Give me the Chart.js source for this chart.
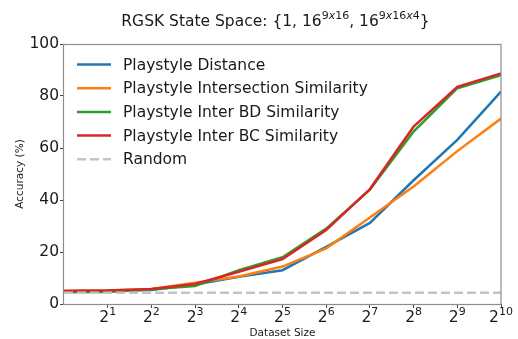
<!DOCTYPE html>
<html>
<head>
<meta charset="utf-8">
<script src="https://cdn.jsdelivr.net/npm/chart.js@4.4.1/dist/chart.umd.min.js"></script>
<style>
  html, body { margin: 0; padding: 0; background: #ffffff; }
  #wrap { width: 518px; height: 339px; }
</style>
</head>
<body>
<div id="wrap"><canvas id="chart" width="518" height="339"></canvas></div>
<script>
// Dataset sizes (x) and accuracy (%) for each playstyle measure
const datasetSizes = [1, 2, 4, 8, 16, 32, 64, 128, 256, 512, 1024];
const playstyleDistance     = [5.0, 5.1, 5.4, 7.5, 10.5, 13.0, 22.0, 31.2, 47.6, 63.1, 81.7];
const playstyleIntersection = [5.0, 5.2, 5.8, 8.2, 10.6, 14.4, 21.4, 33.3, 45.2, 58.8, 71.3];
const playstyleInterBD      = [4.5, 4.6, 5.7, 6.9, 13.0, 18.0, 29.0, 44.0, 66.3, 83.0, 88.0];
const playstyleInterBC      = [5.0, 5.2, 5.8, 7.7, 12.4, 17.3, 28.5, 44.2, 68.2, 83.5, 88.7];
const randomBaseline        = [4.3, 4.3, 4.3, 4.3, 4.3, 4.3, 4.3, 4.3, 4.3, 4.3, 4.3];

const seriesNames = [
  'Playstyle Distance',
  'Playstyle Intersection Similarity',
  'Playstyle Inter BD Similarity',
  'Playstyle Inter BC Similarity',
  'Random'
];
const seriesColors = ['#1f77b4', '#ff7f0e', '#2ca02c', '#d62728', '#c4c4c4'];

// x ticks are powers of two: base 2 with these exponents
const xTickValues = [2, 4, 8, 16, 32, 64, 128, 256, 512, 1024];
const xTickBase = '2';
const xTickExponents = ['1', '2', '3', '4', '5', '6', '7', '8', '9', '10'];
const yTickValues = [0, 20, 40, 60, 80, 100];

const FONT = 'DejaVu Sans';
const TEXT = '#1a1a1a';

function pts(values) {
  return datasetSizes.map((x, i) => ({ x: x, y: values[i] }));
}

const seriesValues = [playstyleDistance, playstyleIntersection, playstyleInterBD, playstyleInterBC, randomBaseline];
// later series sit on top; the dashed baseline is drawn last
const drawOrder = [4, 3, 2, 1, 0];

const datasets = seriesValues.map((vals, i) => ({
  label: seriesNames[i],
  data: pts(vals),
  borderColor: seriesColors[i],
  backgroundColor: seriesColors[i],
  borderWidth: 2.5,
  borderDash: i === 4 ? [9, 4] : [],
  pointRadius: 0,
  tension: 0,
  fill: false,
  order: drawOrder[i]
}));

// Title with superscripted exponents
const titlePlugin = {
  id: 'mathTitle',
  afterDraw(chart) {
    const ctx = chart.ctx;
    const base = 15.5, sup = 11;
    const parts = [
      { t: 'RGSK State Space: {1, 16', s: false },
      { t: '9', s: true }, { t: 'x', s: true, it: true }, { t: '16', s: true },
      { t: ', 16', s: false },
      { t: '9', s: true }, { t: 'x', s: true, it: true }, { t: '16', s: true },
      { t: 'x', s: true, it: true }, { t: '4', s: true },
      { t: '}', s: false }
    ];
    const fontFor = p => (p.it ? 'italic ' : '') + (p.s ? sup : base) + 'px "' + FONT + '"';
    ctx.save();
    let total = 0;
    parts.forEach(p => { ctx.font = fontFor(p); p.w = ctx.measureText(p.t).width; total += p.w; });
    const ca = chart.chartArea;
    const cx = (ca.left + ca.right) / 2 - 7;
    let x = cx - total / 2;
    const baseY = 26;
    ctx.fillStyle = TEXT;
    ctx.textBaseline = 'alphabetic';
    ctx.textAlign = 'left';
    parts.forEach(p => {
      ctx.font = fontFor(p);
      ctx.fillText(p.t, x, p.s ? baseY - 6.8 : baseY);
      x += p.w;
    });
    ctx.restore();
  }
};

// Power-of-two tick labels with raised exponents
const powerTicksPlugin = {
  id: 'powerTicks',
  afterDraw(chart) {
    const ctx = chart.ctx;
    const scale = chart.scales.x;
    const baseFont = '15.5px "' + FONT + '"';
    const supFont = '11px "' + FONT + '"';
    const baseY = scale.top + 18.3;
    ctx.save();
    ctx.fillStyle = TEXT;
    ctx.textBaseline = 'alphabetic';
    ctx.textAlign = 'left';
    scale.ticks.forEach((tick, i) => {
      const px = scale.getPixelForValue(tick.value);
      ctx.font = baseFont;
      const wb = ctx.measureText(xTickBase).width;
      ctx.font = supFont;
      const we = ctx.measureText(xTickExponents[i]).width;
      const x0 = px - (wb + we) / 2;
      ctx.font = baseFont;
      ctx.fillText(xTickBase, x0, baseY);
      ctx.font = supFont;
      ctx.fillText(xTickExponents[i], x0 + wb, baseY - 7.3);
    });
    ctx.restore();
  }
};

// Axes frame on all four sides
const framePlugin = {
  id: 'frame',
  afterDatasetsDraw(chart) {
    const { ctx, chartArea: a } = chart;
    ctx.save();
    ctx.strokeStyle = '#8c8c8c';
    ctx.lineWidth = 1.2;
    ctx.strokeRect(Math.round(a.left) - 0.5, Math.round(a.top) + 0.5,
                   Math.round(a.right - a.left) + 0.5, Math.round(a.bottom - a.top));
    ctx.restore();
  }
};

// Legend drawn inside the upper-left of the plot
const legendPlugin = {
  id: 'innerLegend',
  afterDatasetsDraw(chart) {
    const { ctx, chartArea: a } = chart;
    ctx.save();
    ctx.font = '15.5px "' + FONT + '"';
    ctx.textBaseline = 'middle';
    ctx.textAlign = 'left';
    const x0 = a.left + 13, lineLen = 34, textX = a.left + 59;
    const y0 = a.top + 20.5, step = 23.7;
    chart.data.datasets.forEach((ds, i) => {
      const y = y0 + i * step;
      ctx.strokeStyle = ds.borderColor;
      ctx.lineWidth = ds.borderWidth;
      ctx.setLineDash(ds.borderDash || []);
      ctx.beginPath();
      ctx.moveTo(x0, y);
      ctx.lineTo(x0 + lineLen, y);
      ctx.stroke();
      ctx.setLineDash([]);
      ctx.fillStyle = TEXT;
      ctx.fillText(ds.label, textX, y + 1);
    });
    ctx.restore();
  }
};

new Chart(document.getElementById('chart'), {
  type: 'line',
  data: { datasets: datasets },
  options: {
    responsive: false,
    animation: false,
    devicePixelRatio: 1,
    layout: { padding: { top: 44, right: 17, bottom: 0, left: 0 } },
    plugins: {
      legend: { display: false },
      title: { display: false },
      tooltip: { enabled: false }
    },
    scales: {
      x: {
        type: 'logarithmic',
        min: 1,
        max: 1024,
        afterBuildTicks(scale) { scale.ticks = xTickValues.map(v => ({ value: v })); },
        afterFit(scale) { scale.height = 35; },
        ticks: {
          display: false,
          autoSkip: false,
          maxRotation: 0
        },
        grid: { display: true, drawOnChartArea: false, drawTicks: true, tickLength: 4, tickColor: '#444', tickWidth: 1 },
        border: { display: false },
        title: {
          display: true,
          text: 'Dataset Size',
          color: TEXT,
          font: { family: FONT, size: 10.5, lineHeight: 1 },
          padding: { top: 0, bottom: 0 }
        }
      },
      y: {
        type: 'linear',
        min: 0,
        max: 100,
        afterBuildTicks(scale) { scale.ticks = yTickValues.map(v => ({ value: v })); },
        afterFit(scale) { scale.width = 64; },
        ticks: {
          padding: 1,
          color: TEXT,
          font: { family: FONT, size: 15.5 }
        },
        grid: { display: true, drawOnChartArea: false, drawTicks: true, tickLength: 4, tickColor: '#444', tickWidth: 1 },
        border: { display: false },
        title: {
          display: true,
          text: 'Accuracy (%)',
          color: TEXT,
          font: { family: FONT, size: 10.5, lineHeight: 1.2 },
          padding: { top: 14, bottom: 0 }
        }
      }
    }
  },
  plugins: [framePlugin, legendPlugin, titlePlugin, powerTicksPlugin]
});
</script>
</body>
</html>
